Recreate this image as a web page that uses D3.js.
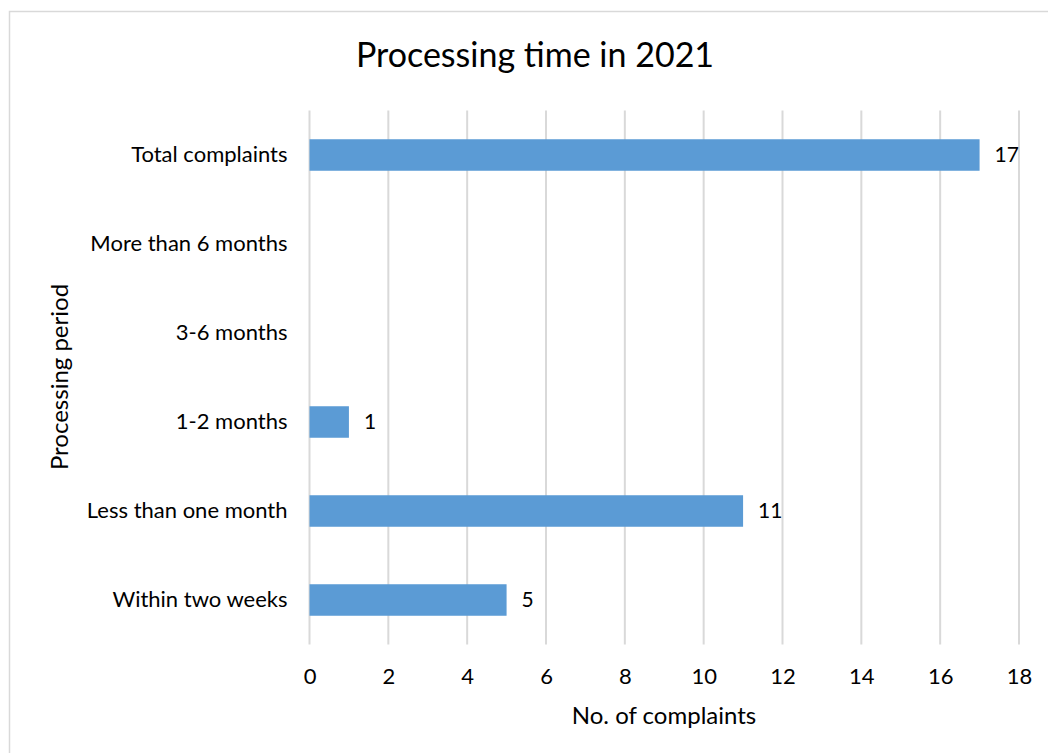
<!DOCTYPE html>
<html>
<head>
<meta charset="utf-8">
<script src="https://cdn.jsdelivr.net/npm/d3@7"></script>
<style>
  body { margin: 0; background: #fff; }
  text { font-family: Lato, "Open Sans", sans-serif; fill: #000; }
</style>
</head>
<body>
<svg id="chart" width="1048" height="753"></svg>
<script>
const categories = ["Total complaints", "More than 6 months", "3-6 months", "1-2 months", "Less than one month", "Within two weeks"];
const values = [17, null, null, 1, 11, 5];
const xTicks = [0, 2, 4, 6, 8, 10, 12, 14, 16, 18];

const data = categories.map((c, i) => ({ cat: c, v: values[i] }));

const margin = { top: 110.5, right: 29, bottom: 108.5, left: 309.5 };
const width = 1048 - margin.left - margin.right;
const height = 753 - margin.top - margin.bottom;

const root = d3.select("#chart");

// outer frame
root.append("rect")
  .attr("x", 9.5).attr("y", 11.5)
  .attr("width", 1060).attr("height", 760)
  .attr("fill", "none")
  .attr("stroke", "#d9d9d9")
  .attr("stroke-width", 1.5);

root.append("text")
  .attr("x", 535).attr("y", 67)
  .attr("text-anchor", "middle")
  .style("font-size", "34px")
  .text("Processing time in 2021");

const svg = root.append("g")
  .attr("transform", `translate(${margin.left},${margin.top})`);

const x = d3.scaleLinear().domain([0, 18]).range([0, width]);
const y = d3.scaleBand().domain(categories).range([0, height]).paddingInner(0.646).paddingOuter(0.323);

// gridlines
svg.append("g")
  .selectAll("line")
  .data(xTicks)
  .enter().append("line")
  .attr("x1", d => x(d)).attr("x2", d => x(d))
  .attr("y1", 0).attr("y2", height)
  .attr("stroke", "#d9d9d9")
  .attr("stroke-width", 2);

const xAxis = d3.axisBottom(x).tickValues(xTicks).tickSize(0).tickPadding(24);
svg.append("g")
  .attr("transform", `translate(0,${height})`)
  .call(xAxis)
  .call(g => g.select(".domain").remove())
  .selectAll("text")
  .style("font-size", "22px")
  .style("font-family", "Lato, sans-serif")
  .attr("fill", "#000");

const yAxis = d3.axisLeft(y).tickSize(0).tickPadding(22);
svg.append("g")
  .call(yAxis)
  .call(g => g.select(".domain").remove())
  .selectAll("text")
  .style("font-size", "22px")
  .style("font-family", "Lato, sans-serif")
  .attr("fill", "#000");

// bars
const withVals = data.filter(d => d.v != null);
svg.selectAll("rect.bar")
  .data(withVals)
  .enter().append("rect")
  .attr("class", "bar")
  .attr("x", x(0))
  .attr("y", d => y(d.cat))
  .attr("width", d => x(d.v) - x(0))
  .attr("height", y.bandwidth())
  .attr("fill", "#5b9bd5");

svg.selectAll("text.val")
  .data(withVals)
  .enter().append("text")
  .attr("class", "val")
  .attr("x", d => x(d.v) + 15)
  .attr("y", d => y(d.cat) + y.bandwidth() / 2)
  .attr("dy", "0.35em")
  .style("font-size", "21px")
  .text(d => d.v);

root.append("text")
  .attr("x", 664).attr("y", 724)
  .attr("text-anchor", "middle")
  .style("font-size", "24px")
  .text("No. of complaints");

root.append("text")
  .attr("transform", "translate(68,377) rotate(-90)")
  .attr("text-anchor", "middle")
  .style("font-size", "24px")
  .text("Processing period");
</script>
</body>
</html>
